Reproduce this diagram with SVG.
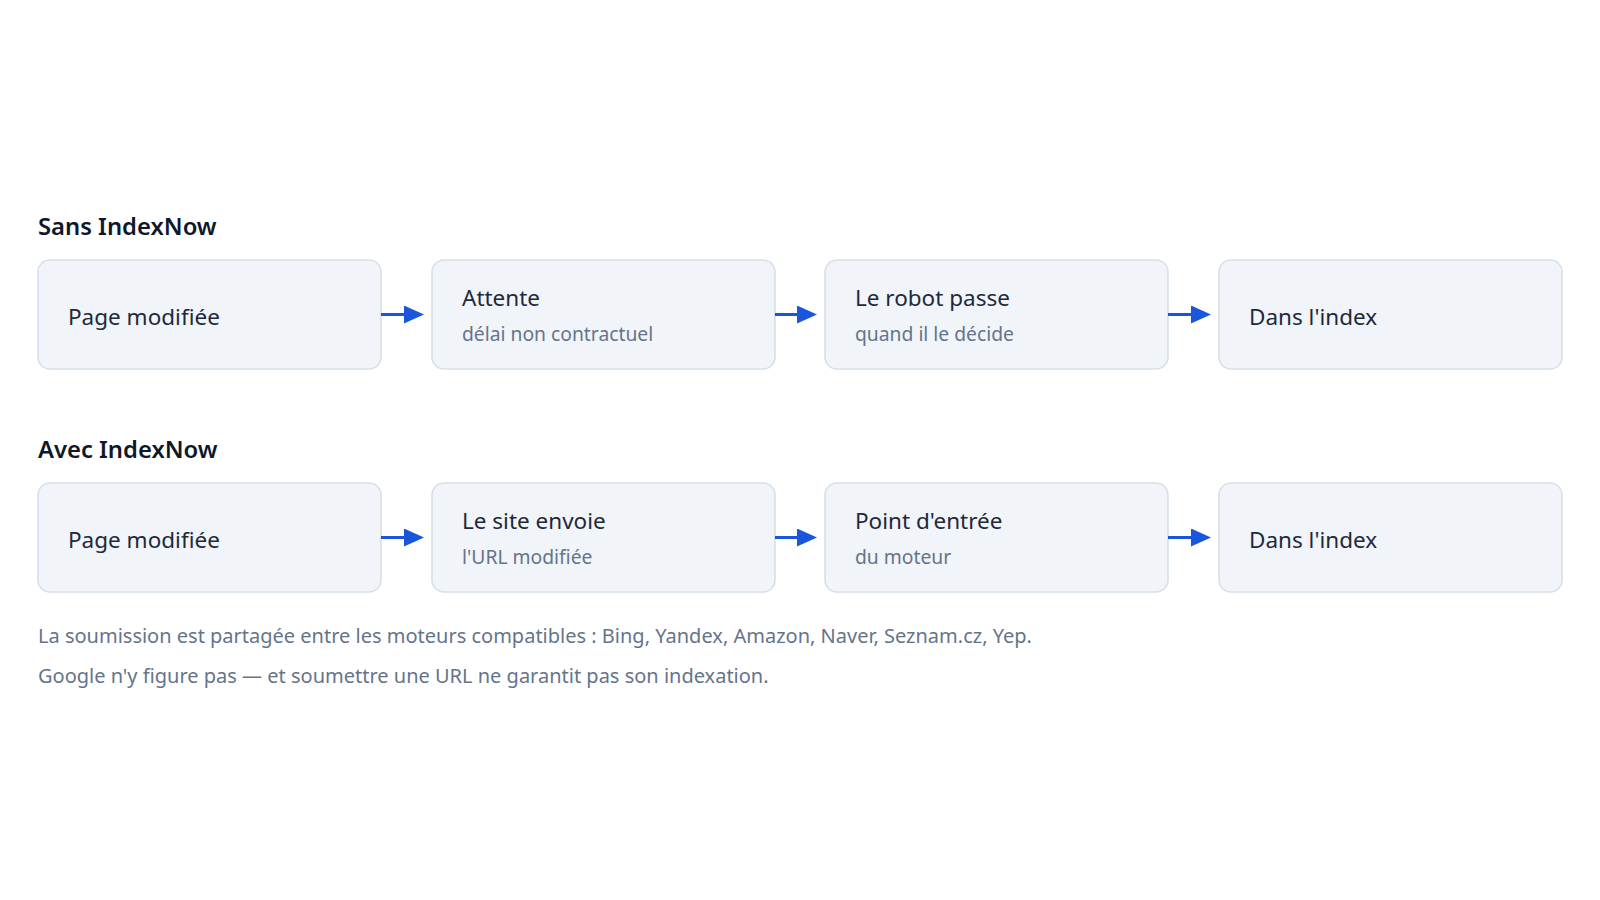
<svg xmlns="http://www.w3.org/2000/svg" width="1600" height="900" viewBox="0 0 1600 900">
<style>
.bg{fill:#ffffff}
.box{fill:#f1f4f9;stroke:#d8dfe9;stroke-width:1.6}
.h{font-family:"Noto Sans","Open Sans","Liberation Sans",sans-serif;font-size:23.8px;font-weight:600;fill:#0f172a}
.t{font-family:"Noto Sans","Open Sans","Liberation Sans",sans-serif;font-size:22.5px;fill:#1e293b}
.s{font-family:"Noto Sans","Open Sans","Liberation Sans",sans-serif;font-size:19.3px;fill:#64748b}
.f{font-family:"Noto Sans","Open Sans","Liberation Sans",sans-serif;font-size:20px;fill:#64748b}
.c{stroke:#1a56db;stroke-width:3;fill:none}
</style>
<defs>
<marker id="ah" markerUnits="userSpaceOnUse" markerWidth="20" markerHeight="18" refX="10" refY="9" orient="auto">
<path d="M0,0 L20,9 L0,18 Z" fill="#1a56db"/>
</marker>
</defs>
<rect class="bg" x="0" y="0" width="1600" height="900"/>

<text class="h" x="38" y="235">Sans IndexNow</text>
<text class="h" x="38" y="458">Avec IndexNow</text>

<g id="r1n1"><rect class="box" x="38" y="260" width="343" height="109" rx="12"/><text class="t" x="68" y="325">Page modifiée</text></g>
<g id="r1n2"><rect class="box" x="432" y="260" width="343" height="109" rx="12"/><text class="t" x="462" y="306">Attente</text><text class="s" x="462" y="341">délai non contractuel</text></g>
<g id="r1n3"><rect class="box" x="825" y="260" width="343" height="109" rx="12"/><text class="t" x="855" y="306">Le robot passe</text><text class="s" x="855" y="341">quand il le décide</text></g>
<g id="r1n4"><rect class="box" x="1219" y="260" width="343" height="109" rx="12"/><text class="t" x="1249" y="325">Dans l'index</text></g>

<g id="r2n1"><rect class="box" x="38" y="483" width="343" height="109" rx="12"/><text class="t" x="68" y="548">Page modifiée</text></g>
<g id="r2n2"><rect class="box" x="432" y="483" width="343" height="109" rx="12"/><text class="t" x="462" y="529">Le site envoie</text><text class="s" x="462" y="564">l'URL modifiée</text></g>
<g id="r2n3"><rect class="box" x="825" y="483" width="343" height="109" rx="12"/><text class="t" x="855" y="529">Point d'entrée</text><text class="s" x="855" y="564">du moteur</text></g>
<g id="r2n4"><rect class="box" x="1219" y="483" width="343" height="109" rx="12"/><text class="t" x="1249" y="548">Dans l'index</text></g>

<g id="connectors">
<line class="c" x1="381" y1="314.5" x2="414" y2="314.5" marker-end="url(#ah)"/>
<line class="c" x1="775" y1="314.5" x2="807" y2="314.5" marker-end="url(#ah)"/>
<line class="c" x1="1168" y1="314.5" x2="1201" y2="314.5" marker-end="url(#ah)"/>
<line class="c" x1="381" y1="537.5" x2="414" y2="537.5" marker-end="url(#ah)"/>
<line class="c" x1="775" y1="537.5" x2="807" y2="537.5" marker-end="url(#ah)"/>
<line class="c" x1="1168" y1="537.5" x2="1201" y2="537.5" marker-end="url(#ah)"/>
</g>

<text class="f" x="38" y="643">La soumission est partagée entre les moteurs compatibles : Bing, Yandex, Amazon, Naver, Seznam.cz, Yep.</text>
<text class="f" x="38" y="683">Google n'y figure pas — et soumettre une URL ne garantit pas son indexation.</text>
</svg>
